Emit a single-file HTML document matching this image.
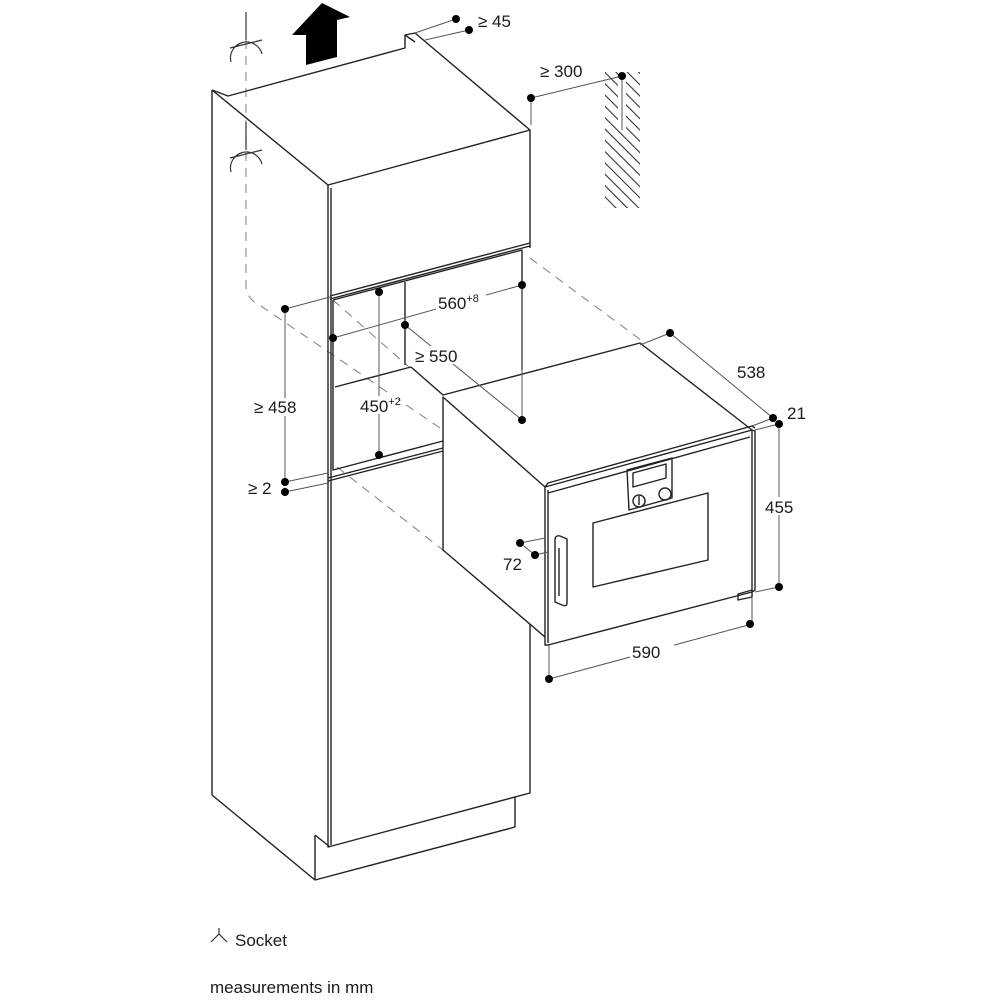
<!DOCTYPE html>
<html><head><meta charset="utf-8"><style>
html,body{margin:0;padding:0;background:#fff;}
svg{display:block}
text{font-family:"Liberation Sans",sans-serif;fill:#1a1a1a;font-size:17px}
</style></head><body>
<svg width="1000" height="1000" viewBox="0 0 1000 1000" xmlns="http://www.w3.org/2000/svg">
<defs>
<pattern id="h" width="8" height="8" patternUnits="userSpaceOnUse" patternTransform="rotate(-45)">
<line x1="0" y1="0" x2="0" y2="8" stroke="#333" stroke-width="2.2"/></pattern>
</defs>
<g fill="none" stroke="#222" stroke-width="1.4" stroke-linejoin="round">
<g stroke="#888" stroke-dasharray="9,7" stroke-width="1.1">
<path d="M246 40 V285 Q246 298 258 304 L443 430"/>
<path d="M333 300 L410 368"/>
<path d="M337 467 L443 550"/>
<path d="M530 258 L645 343"/>
</g>
<path d="M212 90 V795 L315 880 L515 827 V797"/>
<path d="M315 835 V880"/>
<path d="M315 835 L330 847"/>
<path d="M212 90 L228 96 L405 48 V35 L415 33 L530 130 L328 185 L212 90"/>
<path d="M405 35 L415 42"/>
<path d="M328 185 V847 L530 793 V624"/>
<path d="M331 188 V845"/>
<path d="M530 130 V248"/>
<path d="M330 296 L530 243"/>
<path d="M330 299 L530 246"/>
<path d="M333 300 V470 L443 441"/>
<path d="M333 300 L522 250 V370"/>
<path d="M405 282 V365"/>
<path d="M335 387 L411 367"/>
<path d="M328 478 L443 448"/>
<path d="M328 481 L443 451"/>
<path d="M411 367 L443 395 L640 343 L752 430 L545 487 L443 397 V550 L545 637"/>
<path d="M545 487 V645 L548 645 L752 592 V430"/>
<path d="M548 490 V643"/>
<path d="M545 487 L548 483 L752 426 L755 428"/>
<path d="M548 493 L750 437"/>
<path d="M752 430 L755 431 V590 L752 592"/>
<path d="M738 594 L752 590 V597 L738 600Z"/>
<path d="M627 470 L672 458 V498 L629 510Z"/>
<path d="M633 473 L666 464 V478 L633 487Z"/>
<circle cx="639" cy="501" r="6"/>
<circle cx="665" cy="494" r="6"/>
<path d="M639 496 V505"/>
<path d="M593 523 L708 493 V560 L593 587Z"/>
<path d="M555 540 Q555 535 560 536 L567 539 V603 Q567 607 562 605 L555 602 Z"/>
<path d="M559 548 V596"/>
<g stroke="#555" stroke-width="1">
<path d="M415 33 L456 19 M425 40 L469 30"/>
<path d="M531 98 L622 76 M531 98 V125 M622 76 V130"/>
<path d="M522 285 L333 338 M379 292 V455 M405 325 L522 420 M522 285 V420"/>
<path d="M285 309 V482 M285 309 L330 297 M285 482 L328 473 M285 492 L328 483"/>
<path d="M640 345 L670 333 L773 418 M752 426 L773 418 M755 430 L779 424 M779 424 V587 M755 592 L779 587"/>
<path d="M752 597 V624 L549 679 M549 645 V679"/>
<path d="M520 543 L545 538 M535 555 L548 552 M520 543 L535 555"/>
</g>
</g>
<rect x="605" y="72" width="35" height="136" fill="url(#h)"/>
<rect x="618" y="76" width="8" height="54" fill="#fff"/>
<line x1="622" y1="76" x2="622" y2="130" stroke="#555"/>
<polygon points="322,3 350,17 337,20 337,57 306,65 306,35 292,35" fill="#000"/>
<g fill="none" stroke="#333" stroke-width="1.2">
<path d="M246 12 V40 M230 48 L262 40 M231 62 A16 16 0 0 1 262 54"/>
<path d="M246 122 V150 M230 158 L262 150 M231 172 A16 16 0 0 1 262 164"/>
<path d="M211 942 L219 934 L227 942 M219 934 V928"/>
</g>
<g fill="#000">
<circle cx="456" cy="19" r="4"/><circle cx="469" cy="30" r="4"/>
<circle cx="531" cy="98" r="4"/><circle cx="622" cy="76" r="4"/>
<circle cx="522" cy="285" r="4"/><circle cx="333" cy="338" r="4"/>
<circle cx="379" cy="292" r="4"/><circle cx="379" cy="455" r="4"/>
<circle cx="405" cy="325" r="4"/><circle cx="522" cy="420" r="4"/>
<circle cx="285" cy="309" r="4"/><circle cx="285" cy="482" r="4"/><circle cx="285" cy="492" r="4"/>
<circle cx="670" cy="333" r="4"/><circle cx="773" cy="418" r="4"/><circle cx="779" cy="424" r="4"/>
<circle cx="779" cy="587" r="4"/><circle cx="750" cy="624" r="4"/><circle cx="549" cy="679" r="4"/>
<circle cx="520" cy="543" r="4"/><circle cx="535" cy="555" r="4"/>
</g>
<g>
<rect x="436" y="292" width="50" height="18" fill="#fff"/>
<rect x="412" y="346" width="56" height="18" fill="#fff"/>
<rect x="358" y="396" width="40" height="18" fill="#fff"/>
<rect x="250" y="398" width="50" height="18" fill="#fff"/>
<rect x="735" y="364" width="38" height="18" fill="#fff"/>
<rect x="763" y="497" width="36" height="18" fill="#fff"/>
<rect x="630" y="643" width="44" height="18" fill="#fff"/>
</g>
<text x="478" y="27">≥ 45</text>
<text x="540" y="77">≥ 300</text>
<text x="438" y="309">560<tspan font-size="11" dy="-7">+8</tspan></text>
<text x="415" y="362">≥ 550</text>
<text x="360" y="412">450<tspan font-size="11" dy="-7">+2</tspan></text>
<text x="254" y="413">≥ 458</text>
<text x="248" y="494">≥ 2</text>
<text x="737" y="378">538</text>
<text x="787" y="419">21</text>
<text x="765" y="513">455</text>
<text x="632" y="658">590</text>
<text x="503" y="570">72</text>
<text x="235" y="946">Socket</text>
<text x="210" y="993">measurements in mm</text>
</svg>
</body></html>
